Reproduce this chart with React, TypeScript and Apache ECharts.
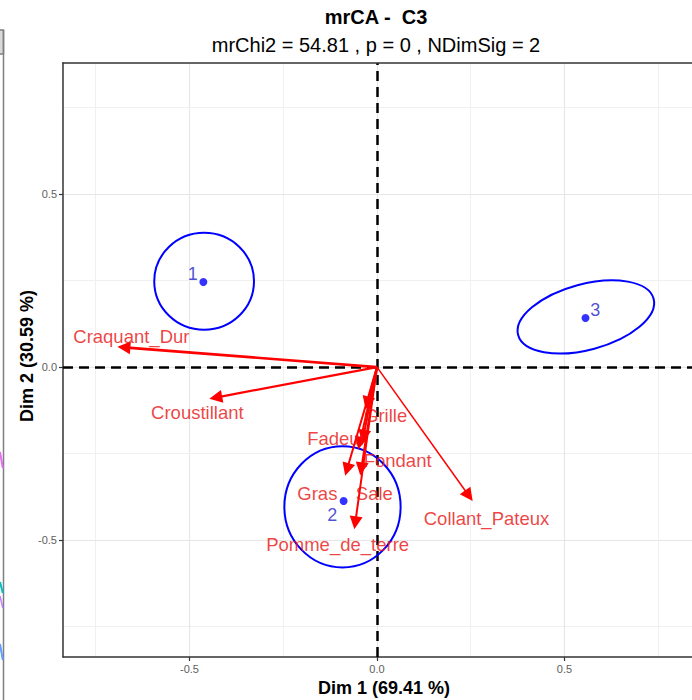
import React, { useEffect, useRef } from "react";
import * as echarts from "echarts";

// ---- data ----
const groupNames = ["1", "2", "3"];
const groupX = [-0.463, -0.089, 0.556];
const groupY = [0.246, -0.387, 0.142];
const groupLabelX = [-0.491, -0.119, 0.582];
const groupLabelY = [0.269, -0.428, 0.165];

// confidence ellipses: centre, semi-axes (data units), rotation (deg)
const ellipseCx = [-0.461, -0.092, 0.557];
const ellipseCy = [0.248, -0.404, 0.145];
const ellipseRx = [0.133, 0.155, 0.187];
const ellipseRy = [0.14, 0.175, 0.095];
const ellipseRot = [0, 0, 15];

const varNames = [
  "Craquant_Dur",
  "Croustillant",
  "Grille",
  "Fadeur",
  "Fondant",
  "Gras",
  "Sale",
  "Pomme_de_terre",
  "Collant_Pateux",
];
const varX = [-0.675, -0.43, -0.026, -0.046, -0.036, -0.08, -0.042, -0.058, 0.245];
const varY = [0.057, -0.088, -0.104, -0.22, -0.2, -0.296, -0.294, -0.45, -0.372];
const varLabelX = [-0.655, -0.479, 0.023, -0.108, 0.055, -0.159, -0.007, -0.105, 0.292];
const varLabelY = [0.087, -0.13, -0.139, -0.205, -0.269, -0.364, -0.364, -0.514, -0.439];

const xTicks = [-0.5, 0, 0.5];
const yTicks = [-0.5, 0, 0.5];
const gridValues = [-0.75, -0.5, -0.25, 0.25, 0.5, 0.75];

const X_MIN = -0.8373;
const X_MAX = 0.84;
const Y_MIN = -0.838;
const Y_MAX = 0.879;

// ---- styles ----
const arrowLineWidths = [2.6, 2.3, 2, 2, 2, 2, 2, 2, 1.5];
const RED = "#FF0000";
const RED_TEXT = "#E81212";
const BLUE = "#0000FF";
const BLUE_TEXT = "#1F1FCC";
const FONT = "Liberation Sans, Arial, sans-serif";
const BORDER = { color: "#333333", width: 1.5 };

export default function App() {
  const ref = useRef<HTMLDivElement>(null);

  useEffect(() => {
    if (!ref.current) return;
    const chart = echarts.init(ref.current, undefined, { renderer: "svg" });

    const gridLines: any[] = [];
    const addGrid = (v: number, major: boolean) => {
      const ls = { color: major ? "#E6E6E6" : "#F0F0F0", width: major ? 1.2 : 1, opacity: 1 };
      gridLines.push({ coords: [[v, Y_MIN], [v, Y_MAX]], lineStyle: ls });
      gridLines.push({ coords: [[X_MIN, v], [X_MAX, v]], lineStyle: ls });
    };
    gridValues.forEach((v) => addGrid(v, Math.abs(Math.abs(v) - 0.5) < 1e-9));
    addGrid(0, true);

    const option: any = {
      animation: false,
      grid: { left: 63, top: 63, right: 0, bottom: 43, show: false },
      xAxis: {
        type: "value",
        min: X_MIN,
        max: X_MAX,
        splitLine: { show: false },
        axisLine: { show: true, onZero: false, lineStyle: BORDER },
        axisTick: { show: true, customValues: xTicks, length: 4, lineStyle: { color: "#333333", width: 1.2 } },
        axisLabel: {
          customValues: xTicks,
          formatter: (v: number) => v.toFixed(1),
          color: "#5E5E5E",
          fontSize: 11,
          fontFamily: FONT,
          margin: 6,
        },
      },
      yAxis: {
        type: "value",
        min: Y_MIN,
        max: Y_MAX,
        splitLine: { show: false },
        axisLine: { show: true, onZero: false, lineStyle: BORDER },
        axisTick: { show: true, customValues: yTicks, length: 4, lineStyle: { color: "#333333", width: 1.2 } },
        axisLabel: {
          customValues: yTicks,
          formatter: (v: number) => v.toFixed(1),
          color: "#5E5E5E",
          fontSize: 11,
          fontFamily: FONT,
          margin: 6,
        },
      },
      graphic: [
        {
          type: "line",
          z: 10,
          shape: { x1: 62.25, y1: 63, x2: 692, y2: 63 },
          style: { stroke: BORDER.color, lineWidth: BORDER.width },
        },
        {
          type: "text",
          x: 376,
          y: 17,
          style: { text: "mrCA -  C3", align: "center", verticalAlign: "middle", font: `bold 20px ${FONT}`, fill: "#000000" },
        },
        {
          type: "text",
          x: 376,
          y: 45,
          style: {
            text: "mrChi2 = 54.81 , p = 0 , NDimSig = 2",
            align: "center",
            verticalAlign: "middle",
            font: `20px ${FONT}`,
            fill: "#000000",
          },
        },
        {
          type: "text",
          x: 384,
          y: 688,
          style: { text: "Dim 1 (69.41 %)", align: "center", verticalAlign: "middle", font: `bold 18px ${FONT}`, fill: "#000000" },
        },
        {
          type: "text",
          x: 27,
          y: 356,
          rotation: Math.PI / 2,
          style: { text: "Dim 2 (30.59 %)", align: "center", verticalAlign: "middle", font: `bold 18px ${FONT}`, fill: "#000000" },
        },
        // remnants of the neighbouring panel at the left edge
        { type: "rect", shape: { x: -3, y: 30, width: 6.5, height: 24 }, style: { fill: "#D9D9D9", stroke: "#7F7F7F", lineWidth: 1.5 } },
        { type: "line", shape: { x1: 3.5, y1: 30, x2: 3.5, y2: 700 }, style: { stroke: "#7F7F7F", lineWidth: 1.5 } },
        { type: "line", shape: { x1: 0, y1: 452, x2: 2.8, y2: 468 }, style: { stroke: "#E76BF3", lineWidth: 2 } },
        { type: "line", shape: { x1: 0, y1: 582, x2: 2.8, y2: 593 }, style: { stroke: "#00BFC4", lineWidth: 2 } },
        { type: "line", shape: { x1: 0, y1: 596, x2: 2.8, y2: 608 }, style: { stroke: "#C77CFF", lineWidth: 1.5 } },
        { type: "line", shape: { x1: 0, y1: 644, x2: 2.8, y2: 660 }, style: { stroke: "#619CFF", lineWidth: 2 } },
      ],
      series: [
        { name: "grid", type: "lines", coordinateSystem: "cartesian2d", z: 0, silent: true, symbol: "none", data: gridLines },
        {
          name: "zero",
          type: "lines",
          coordinateSystem: "cartesian2d",
          z: 1,
          silent: true,
          symbol: "none",
          lineStyle: { color: "#000000", width: 2.5, type: [10, 6], opacity: 1 },
          data: [{ coords: [[0, Y_MIN], [0, Y_MAX]] }, { coords: [[X_MIN, 0], [X_MAX, 0]] }],
        },
        {
          name: "ellipses",
          type: "custom",
          z: 2,
          clip: false,
          silent: true,
          renderItem: (params: any, api: any) => {
            const c = api.coord([api.value(0), api.value(1)]);
            const s = api.size([api.value(2), api.value(3)]);
            return {
              type: "ellipse",
              x: c[0],
              y: c[1],
              rotation: (api.value(4) * Math.PI) / 180,
              shape: { cx: 0, cy: 0, rx: s[0], ry: s[1] },
              style: { fill: "none", stroke: BLUE, lineWidth: 2 },
            };
          },
          data: ellipseCx.map((cx, i) => [cx, ellipseCy[i], ellipseRx[i], ellipseRy[i], ellipseRot[i]]),
        },
        {
          name: "arrows",
          type: "lines",
          coordinateSystem: "cartesian2d",
          z: 3,
          silent: true,
          symbol: ["none", "triangle"],
          symbolSize: 13,
          data: varNames.map((n, i) => ({
            name: n,
            coords: [[0, 0], [varX[i], varY[i]]],
            lineStyle: { color: RED, width: arrowLineWidths[i], opacity: 1 },
          })),
        },
        {
          name: "groups",
          type: "scatter",
          z: 4,
          symbol: "circle",
          symbolSize: 8,
          itemStyle: { color: BLUE },
          data: groupNames.map((n, i) => ({ name: n, value: [groupX[i], groupY[i]] })),
        },
        {
          name: "groupLabels",
          type: "scatter",
          z: 5,
          symbolSize: 0,
          label: { show: true, position: "inside", formatter: "{b}", color: BLUE_TEXT, fontSize: 18, fontFamily: FONT },
          data: groupNames.map((n, i) => ({ name: n, value: [groupLabelX[i], groupLabelY[i]] })),
        },
        {
          name: "varLabels",
          type: "scatter",
          z: 5,
          symbolSize: 0,
          label: { show: true, position: "inside", formatter: "{b}", color: RED_TEXT, fontSize: 18.5, fontFamily: FONT },
          data: varNames.map((n, i) => ({ name: n, value: [varLabelX[i], varLabelY[i]] })),
        },
      ],
    };

    chart.setOption(option);
    return () => chart.dispose();
  }, []);

  return <div ref={ref} style={{ position: "absolute", left: 0, top: 0, width: 692, height: 700, background: "#FFFFFF" }} />;
}
